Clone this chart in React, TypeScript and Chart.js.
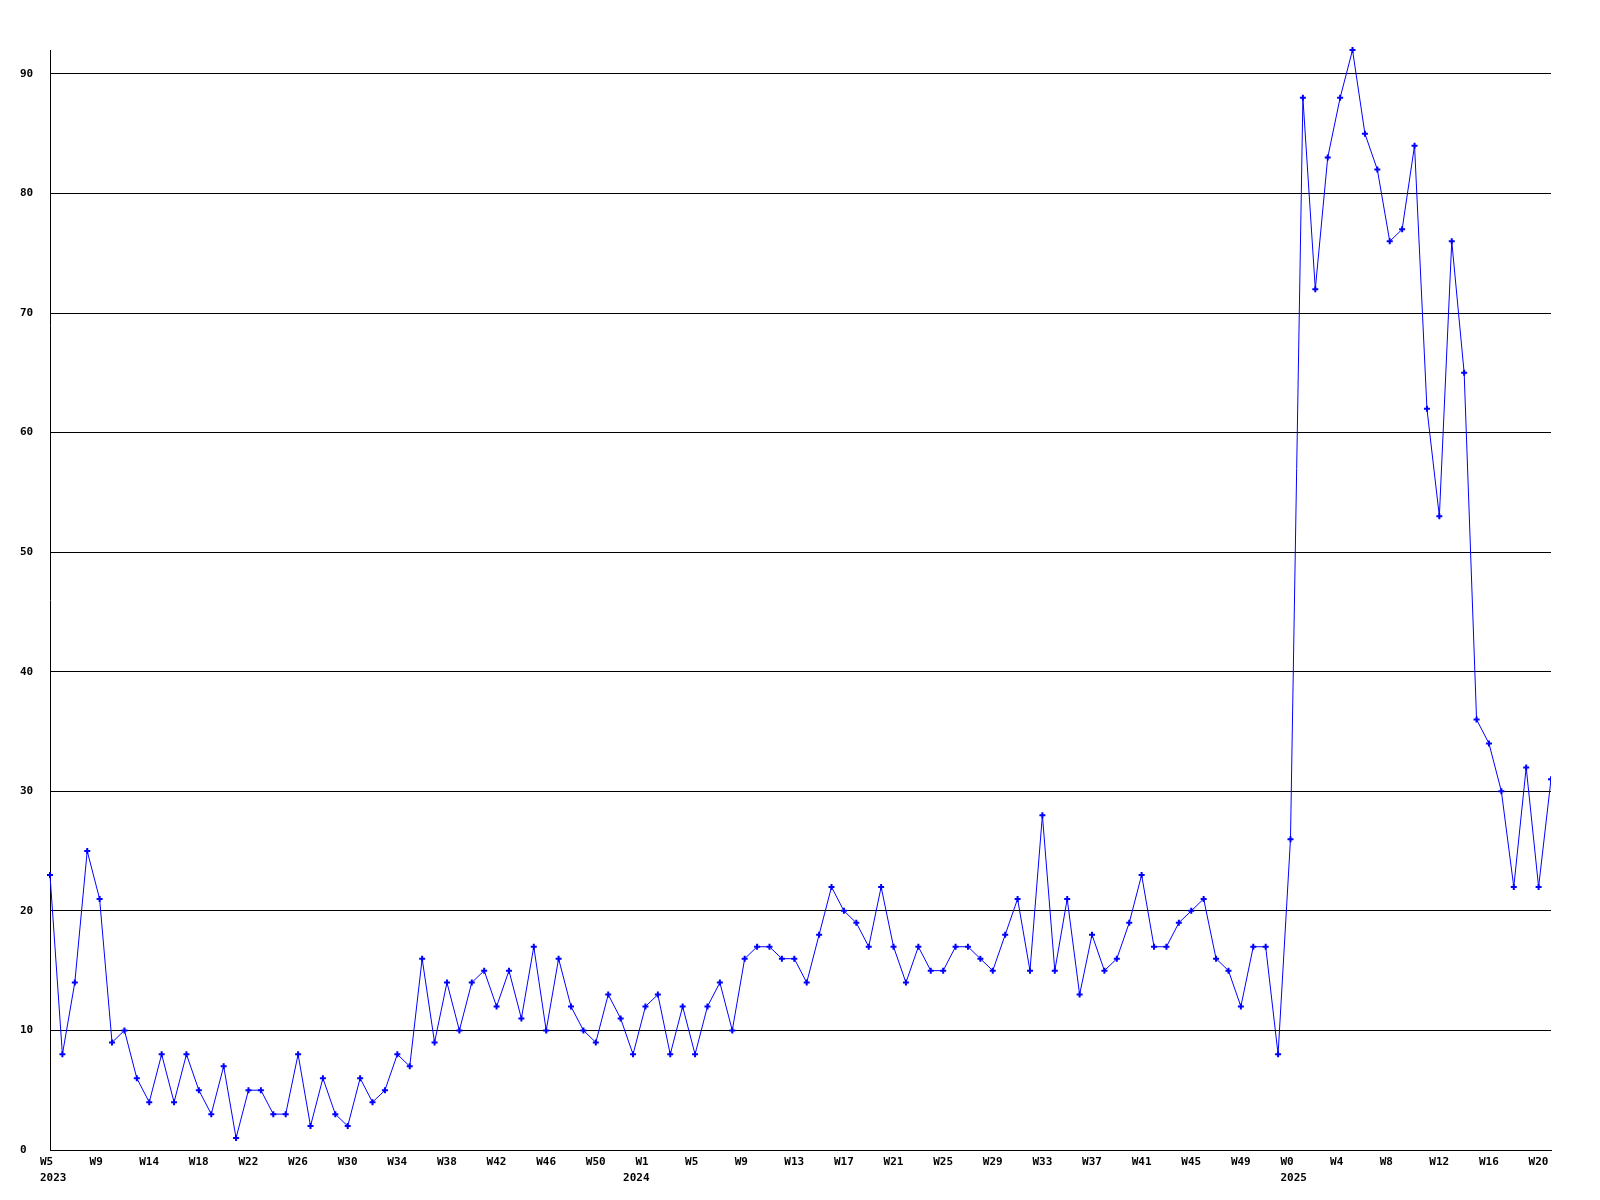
import React, { useEffect, useRef } from "react";
import { Chart, registerables } from "chart.js";

Chart.register(...registerables);

// Week categories (year-week), one per point
const categories: string[] = [
  "2023-W5", "2023-W6", "2023-W7", "2023-W8", "2023-W9", "2023-W10", "2023-W11", "2023-W12",
  "2023-W14", "2023-W15", "2023-W16", "2023-W17", "2023-W18", "2023-W19", "2023-W20", "2023-W21",
  "2023-W22", "2023-W23", "2023-W24", "2023-W25", "2023-W26", "2023-W27", "2023-W28", "2023-W29",
  "2023-W30", "2023-W31", "2023-W32", "2023-W33", "2023-W34", "2023-W35", "2023-W36", "2023-W37",
  "2023-W38", "2023-W39", "2023-W40", "2023-W41", "2023-W42", "2023-W43", "2023-W44", "2023-W45",
  "2023-W46", "2023-W47", "2023-W48", "2023-W49", "2023-W50", "2023-W51", "2023-W52",
  "2024-W0", "2024-W1", "2024-W2", "2024-W3", "2024-W4", "2024-W5", "2024-W6", "2024-W7",
  "2024-W8", "2024-W9", "2024-W10", "2024-W11", "2024-W12", "2024-W13", "2024-W14", "2024-W15",
  "2024-W16", "2024-W17", "2024-W18", "2024-W19", "2024-W20", "2024-W21", "2024-W22", "2024-W23",
  "2024-W24", "2024-W25", "2024-W26", "2024-W27", "2024-W28", "2024-W29", "2024-W30", "2024-W31",
  "2024-W32", "2024-W33", "2024-W34", "2024-W35", "2024-W36", "2024-W37", "2024-W38", "2024-W39",
  "2024-W40", "2024-W41", "2024-W42", "2024-W43", "2024-W44", "2024-W45", "2024-W46", "2024-W47",
  "2024-W48", "2024-W49", "2024-W50", "2024-W51", "2024-W52",
  "2025-W0", "2025-W1", "2025-W2", "2025-W3", "2025-W4", "2025-W5", "2025-W6", "2025-W7",
  "2025-W8", "2025-W9", "2025-W10", "2025-W11", "2025-W12", "2025-W13", "2025-W14", "2025-W15",
  "2025-W16", "2025-W17", "2025-W18", "2025-W19", "2025-W20", "2025-W21",
];

// Weekly counts
const values: number[] = [
  23, 8, 14, 25, 21, 9, 10, 6, 4, 8, 4, 8, 5, 3, 7, 1, 5, 5, 3, 3, 8, 2, 6, 3, 2, 6, 4, 5, 8, 7,
  16, 9, 14, 10, 14, 15, 12, 15, 11, 17, 10, 16, 12, 10, 9, 13, 11, 8, 12, 13, 8, 12, 8, 12, 14, 10,
  16, 17, 17, 16, 16, 14, 18, 22, 20, 19, 17, 22, 17, 14, 17, 15, 15, 17, 17, 16, 15, 18, 21, 15,
  28, 15, 21, 13, 18, 15, 16, 19, 23, 17, 17, 19, 20, 21, 16, 15, 12, 17, 17, 8,
  26, 88, 72, 83, 88, 92, 85, 82, 76, 77, 84, 62, 53, 76, 65, 36, 34, 30, 22, 32, 22, 31,
];

// Y axis tick values
const yTicks: number[] = [0, 10, 20, 30, 40, 50, 60, 70, 80, 90];
const yMax = 92;
const weekTickEvery = 4;

const tickFont = {
  family: "'DejaVu Sans Mono', monospace",
  size: 11,
  weight: "bold" as const,
  lineHeight: 16 / 11,
};

export default function App() {
  const ref = useRef<HTMLCanvasElement | null>(null);

  useEffect(() => {
    document.body.style.margin = "0";
    const canvas = ref.current;
    if (!canvas) return;
    const chart = new Chart(canvas, {
      type: "line",
      data: {
        labels: categories,
        datasets: [
          {
            data: values,
            borderColor: "#0000ff",
            backgroundColor: "#0000ff",
            borderWidth: 1,
            tension: 0,
            fill: false,
            clip: { left: 4, top: 6, right: 0, bottom: 4 } as any,
            pointStyle: "cross",
            pointRadius: 3,
            pointBorderWidth: 2,
            pointBorderColor: "#0000ff",
            pointBackgroundColor: "#0000ff",
          },
        ],
      },
      options: {
        animation: false,
        responsive: false,
        devicePixelRatio: 1,
        layout: { padding: { left: 20, top: 50, right: 49, bottom: 0 } },
        plugins: { legend: { display: false }, tooltip: { enabled: false } },
        scales: {
          x: {
            type: "category",
            grid: { display: false, drawTicks: false },
            border: { display: true, color: "#000", width: 1 },
            afterFit: (scale: any) => {
              scale.height = 50;
            },
            ticks: {
              autoSkip: false,
              maxRotation: 0,
              minRotation: 0,
              align: "start",
              labelOffset: -10,
              padding: 4,
              color: "#000",
              font: tickFont,
              callback: (_v: any, index: number) => {
                const [yr, wk] = categories[index].split("-");
                const prevYr = index > 0 ? categories[index - 1].split("-")[0] : null;
                const newYear = prevYr !== yr;
                const showWeek = index % weekTickEvery === 0;
                if (!showWeek && !newYear) return null;
                return [showWeek ? wk : "", newYear ? yr : ""];
              },
            },
          },
          y: {
            min: 0,
            max: yMax,
            afterFit: (scale: any) => {
              scale.width = 30;
            },
            afterBuildTicks: (scale: any) => {
              scale.ticks = yTicks.map((v) => ({ value: v }));
            },
            grid: { color: "#000", lineWidth: 1, drawTicks: false },
            border: { display: true, color: "#000", width: 1 },
            ticks: {
              crossAlign: "far",
              color: "#000",
              font: { ...tickFont, lineHeight: 1.2 },
              padding: 0,
            },
          },
        },
      },
    });
    return () => chart.destroy();
  }, []);

  return <canvas ref={ref} width={1600} height={1200} style={{ width: 1600, height: 1200, display: "block" }} />;
}
